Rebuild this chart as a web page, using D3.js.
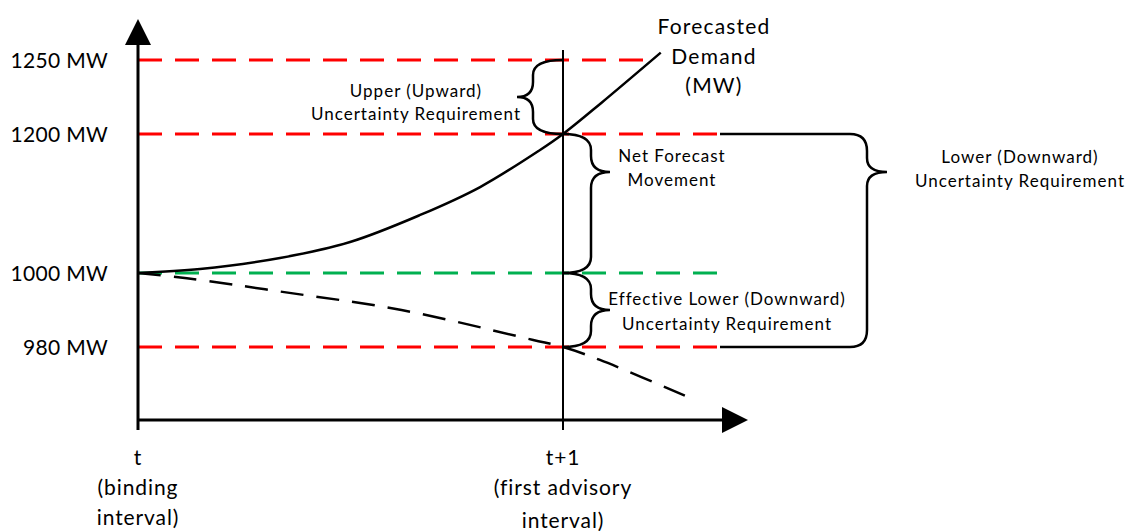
<!DOCTYPE html>
<html>
<head>
<meta charset="utf-8">
<script src="https://cdn.jsdelivr.net/npm/d3@7"></script>
<style>
  body { margin: 0; background: #fff; }
  text { font-family: Lato, "Open Sans", sans-serif; fill: #000; }
</style>
</head>
<body>
<div class="gv-chart"></div>
<script>
// schematic MW levels on the vertical axis
const levels = [1250, 1200, 1000, 980]
const levelLabels = ["1250 MW", "1200 MW", "1000 MW", "980 MW"]

// intervals on the time axis (t = 0, t+1 = 1)
const intervals = [0, 1]
const intervalLabels = [
  ["t", "(binding", "interval)"],
  ["t+1", "(first advisory", "interval)"]
]

// forecasted demand (solid) and lower path (dashed)
const demandT = [0, 0.146, 0.334, 0.499, 0.664, 0.805, 0.946, 1.0, 1.09, 1.23]
const demandMW = [1000, 1005.8, 1021.6, 1044.6, 1083.5, 1123.7, 1177, 1200, 1221, 1255]
const lowerT = [0, 0.115, 0.34, 0.62, 0.93, 1.0, 1.087, 1.3]
const lowerMW = [1000, 998.6, 994.9, 990, 981.9, 980, 976.5, 966.2]

const upperText = ["Upper (Upward)", "Uncertainty Requirement"]
const netText = ["Net Forecast", "Movement"]
const effText = ["Effective Lower (Downward)", "Uncertainty Requirement"]
const lowerText = ["Lower (Downward)", "Uncertainty Requirement"]
const demandText = ["Forecasted", "Demand", "(MW)"]

const width = 1133, height = 531

var svg = d3.select(".gv-chart").append("svg")
  .attr("width", width)
  .attr("height", height)

var x = d3.scaleLinear().domain([0, 1]).range([138, 563])
// piecewise scale: the picture is schematic, not to scale
var y = d3.scaleLinear().domain([980, 1000, 1200, 1250]).range([347, 273, 134, 60])

var guideColour = d3.scaleOrdinal().domain(levels).range(["#ff0000", "#ff0000", "#00b050", "#ff0000"])
var guideEnd = d3.scaleOrdinal().domain(levels).range([643, 717, 717, 717])

var x0 = x(0), x1 = x(1), axisY = 420

// guide lines
svg.append("g").selectAll("line")
  .data(levels)
  .enter()
  .append("line")
  .attr("x1", x0)
  .attr("x2", d => guideEnd(d))
  .attr("y1", d => y(d))
  .attr("y2", d => y(d))
  .attr("stroke", d => guideColour(d))
  .attr("stroke-width", 3)
  .attr("stroke-dasharray", "24,13")

// y axis labels
var yAxis = svg.append("g")
  .attr("transform", `translate(${x0},0)`)
  .call(d3.axisLeft(y).tickValues(levels).tickSize(0).tickPadding(30)
    .tickFormat((d, i) => levelLabels[i]))
yAxis.select(".domain").remove()
yAxis.selectAll("text")
  .style("font-family", "Lato, sans-serif")
  .style("font-size", "21px")
  .style("letter-spacing", "0.3px")
  .attr("dy", "0.36em")

// axes with arrows
svg.append("line").attr("x1", x0).attr("x2", x0).attr("y1", 430).attr("y2", 44)
  .attr("stroke", "#000").attr("stroke-width", 3)
svg.append("path").attr("d", `M${x0 - 13},45L${x0},19L${x0 + 13},45Z`).attr("fill", "#000")
svg.append("line").attr("x1", x0).attr("x2", 724).attr("y1", axisY).attr("y2", axisY)
  .attr("stroke", "#000").attr("stroke-width", 3)
svg.append("path").attr("d", `M722,${axisY - 13}L748,${axisY}L722,${axisY + 13}Z`).attr("fill", "#000")

// t+1 line
svg.append("line").attr("x1", x1).attr("x2", x1).attr("y1", 50).attr("y2", 430)
  .attr("stroke", "#000").attr("stroke-width", 2)

// x labels
var xl = svg.append("g").selectAll("text")
  .data(intervals)
  .enter()
  .append("text")
  .attr("text-anchor", "middle")
  .style("font-size", "21px")
  .style("letter-spacing", "0.9px")
xl.selectAll("tspan")
  .data((d, i) => intervalLabels[i].map(s => ({ s: s, x: x(d), i: i })))
  .enter()
  .append("tspan")
  .attr("x", d => d.x)
  .attr("y", (d, j) => 465 + j * 30 + (d.i == 1 && j == 2 ? 3 : 0))
  .text(d => d.s)

// curves
var line = d3.line().curve(d3.curveCatmullRom.alpha(0.5))
  .x(d => x(d[0])).y(d => y(d[1]))

svg.append("path")
  .datum(demandT.map((t, i) => [t, demandMW[i]]))
  .attr("d", line)
  .attr("fill", "none").attr("stroke", "#000").attr("stroke-width", 2.5)

svg.append("path")
  .datum(lowerT.map((t, i) => [t, lowerMW[i]]))
  .attr("d", line)
  .attr("fill", "none").attr("stroke", "#000").attr("stroke-width", 2.5)
  .attr("stroke-dasharray", "23,13")

// curly braces
function brace(xs, xm, tip, ya, ym, yb, ry) {
  var p = d3.path()
  p.moveTo(xs, ya)
  p.quadraticCurveTo(xm, ya, xm, ya + ry)
  p.lineTo(xm, ym - ry)
  p.quadraticCurveTo(xm, ym, tip, ym)
  p.quadraticCurveTo(xm, ym, xm, ym + ry)
  p.lineTo(xm, yb - ry)
  p.quadraticCurveTo(xm, yb, xs, yb)
  return p.toString()
}

function drawBrace(d) {
  svg.append("path").attr("d", d)
    .attr("fill", "none").attr("stroke", "#000").attr("stroke-width", 2.5)
}

drawBrace(brace(x1, x1 - 30, x1 - 46, y(1250), (y(1250) + y(1200)) / 2, y(1200), 15))
drawBrace(brace(x1, x1 + 28, x1 + 47, y(1200), 172, y(1000), 16))
drawBrace(brace(x1, x1 + 28, x1 + 47, y(1000), (y(1000) + y(980)) / 2, y(980), 16))

// big brace with lead lines
var bp = d3.path()
bp.moveTo(720, y(1200))
bp.lineTo(850, y(1200))
bp.quadraticCurveTo(867, y(1200), 867, y(1200) + 17)
bp.lineTo(867, 158)
bp.quadraticCurveTo(867, 172, 887, 172)
bp.quadraticCurveTo(867, 172, 867, 186)
bp.lineTo(867, y(980) - 17)
bp.quadraticCurveTo(867, y(980), 850, y(980))
bp.lineTo(720, y(980))
drawBrace(bp.toString())

// annotation text
function label(lines, cx, y0, size, gap, ls) {
  var t = svg.append("text").attr("text-anchor", "middle")
    .style("font-size", size + "px").style("letter-spacing", ls + "px")
  t.selectAll("tspan").data(lines).enter().append("tspan")
    .attr("x", cx).attr("y", (d, i) => y0 + i * gap).text(d => d)
}

label(demandText, 714, 34, 21, 29.5, 1.2)
label(upperText, 416, 97, 17, 23, 1)
label(netText, 672, 162, 17, 24, 1)
label(effText, 727, 305, 17, 25, 1)
label(lowerText, 1020, 163, 17, 24, 1)
</script>
</body>
</html>
